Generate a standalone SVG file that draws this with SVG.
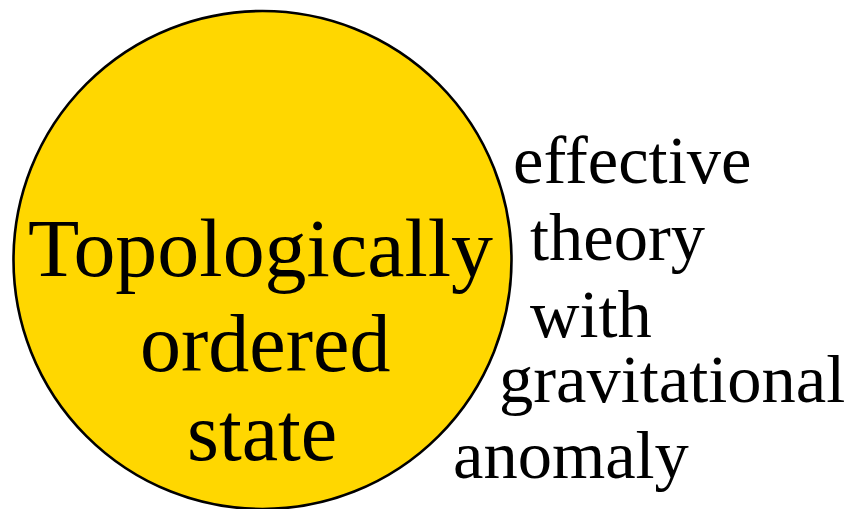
<svg xmlns="http://www.w3.org/2000/svg" width="851" height="509" viewBox="0 0 851 509">
<style>
text{font-family:"Liberation Serif","Times New Roman",serif;fill:#000}
.big{font-size:82px}
.side{font-size:68.5px}
</style>
<rect width="851" height="509" fill="#fff"/>
<g id="node-state">
<circle cx="262.5" cy="260" r="249" fill="#FFD700" stroke="#000" stroke-width="2.6"/>
<text class="big" x="28" y="276" textLength="465" lengthAdjust="spacingAndGlyphs">Topologically</text>
<text class="big" x="140" y="371">ordered</text>
<text class="big" x="187" y="460">state</text>
</g>
<g id="node-label">
<text class="side" x="513" y="183">effective</text>
<text class="side" x="530" y="260">theory</text>
<text class="side" x="530" y="337">with</text>
<text class="side" x="499" y="402">gravitational</text>
<text class="side" x="453" y="478">anomaly</text>
</g>
<g id="connectors"></g>
</svg>
